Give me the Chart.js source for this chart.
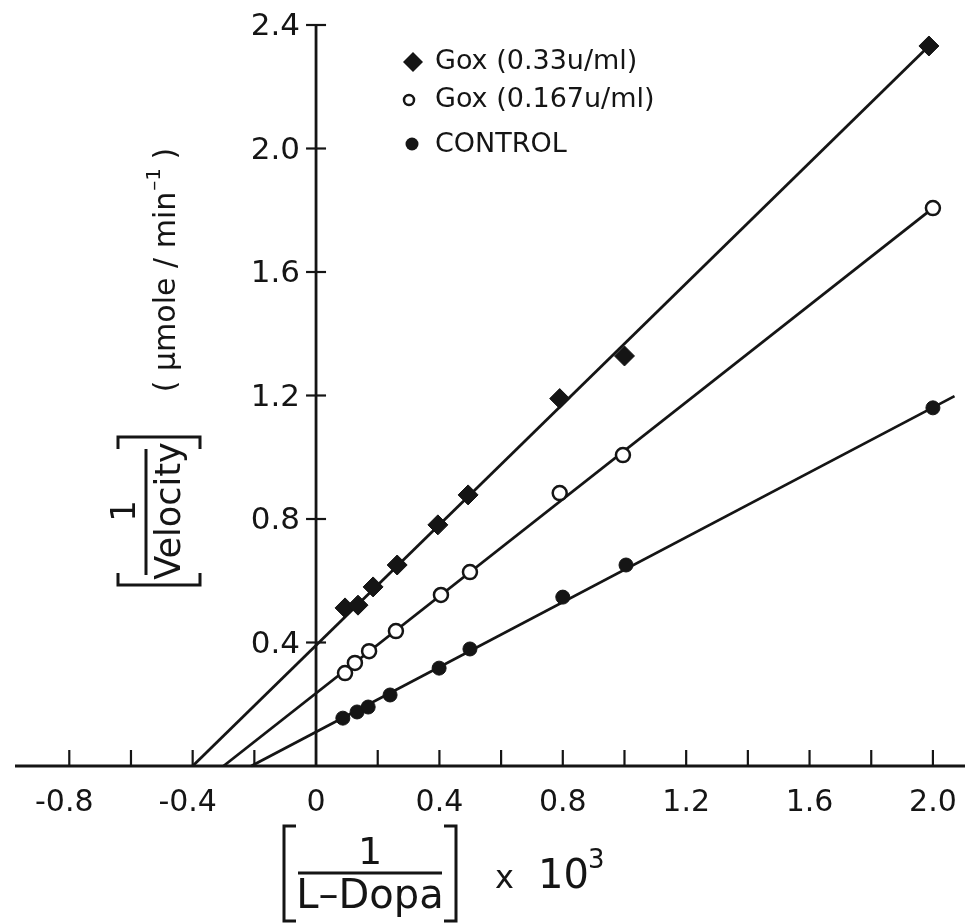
<!DOCTYPE html>
<html>
<head>
<meta charset="utf-8">
<script src="https://cdn.jsdelivr.net/npm/chart.js@4"></script>
<style>
  html, body { margin: 0; padding: 0; background: #fff; }
  #wrap { width: 965px; height: 924px; }
</style>
</head>
<body>
<div id="wrap"><canvas id="lbChart" width="965" height="924"></canvas></div>
<script>
// Valori (1/[L-Dopa] x 10^3 e 1/velocita)
const seriesNames = ['Gox (0.33u/ml)', 'Gox (0.167u/ml)', 'CONTROL'];

const xGox33 = [0.094, 0.136, 0.185, 0.263, 0.395, 0.493, 0.79, 1.0, 1.987];
const yGox33 = [0.512, 0.521, 0.58, 0.651, 0.781, 0.878, 1.19, 1.328, 2.332];

const xGox167 = [0.094, 0.126, 0.172, 0.259, 0.405, 0.499, 0.79, 0.995, 2.0];
const yGox167 = [0.301, 0.334, 0.372, 0.437, 0.554, 0.628, 0.884, 1.007, 1.807];

const xControl = [0.087, 0.133, 0.169, 0.24, 0.399, 0.499, 0.80, 1.005, 2.0];
const yControl = [0.155, 0.175, 0.191, 0.23, 0.317, 0.379, 0.547, 0.651, 1.16];

// Rette di regressione (estremi)
const fitGox33 = { x: [-0.40, 1.987], y: [0, 2.332] };
const fitGox167 = { x: [-0.30, 2.0], y: [0, 1.807] };
const fitControl = { x: [-0.21, 2.07], y: [0, 1.198] };

// Tacche e etichette degli assi
const xTickMarks = [-0.8, -0.6, -0.4, -0.2, 0.2, 0.4, 0.6, 0.8, 1.0, 1.2, 1.4, 1.6, 1.8, 2.0];
const xTickLabels = ['-0.8', '-0.4', '0', '0.4', '0.8', '1.2', '1.6', '2.0'];
const yTickValues = [0.4, 0.8, 1.2, 1.6, 2.0, 2.4];
const yTickLabels = ['0.4', '0.8', '1.2', '1.6', '2.0', '2.4'];

const FONT = "'DejaVu Sans', sans-serif";
const INK = '#151515';

function toPoints(xs, ys) {
    return xs.map((x, i) => ({ x: x, y: ys[i] }));
}

function fitDataset(fit) {
    return {
        type: 'line',
        data: toPoints(fit.x, fit.y),
        borderColor: INK,
        borderWidth: 2.8,
        pointRadius: 0,
        fill: false,
        order: 2
    };
}

// Sfondo bianco
const whiteBg = {
    id: 'whiteBg',
    beforeDraw(chart) {
        const ctx = chart.ctx;
        ctx.save();
        ctx.fillStyle = '#fff';
        ctx.fillRect(0, 0, chart.width, chart.height);
        ctx.restore();
    }
};

// Assi disegnati a mano attraverso le scale di Chart.js
const axesPlugin = {
    id: 'axesPlugin',
    beforeDatasetsDraw(chart) {
        const ctx = chart.ctx;
        const xs = chart.scales.x;
        const ys = chart.scales.y;
        const x0 = xs.getPixelForValue(0);
        const y0 = ys.getPixelForValue(0);
        ctx.save();
        ctx.strokeStyle = INK;
        ctx.lineWidth = 2.8;
        ctx.lineCap = 'butt';

        // asse x
        ctx.beginPath();
        ctx.moveTo(chart.chartArea.left, y0);
        ctx.lineTo(chart.chartArea.right, y0);
        ctx.stroke();
        // asse y
        ctx.beginPath();
        ctx.moveTo(x0, ys.getPixelForValue(2.4));
        ctx.lineTo(x0, y0);
        ctx.stroke();

        // tacche x (verso l'alto)
        ctx.lineWidth = 2.2;
        xTickMarks.forEach(v => {
            const px = xs.getPixelForValue(v);
            ctx.beginPath();
            ctx.moveTo(px, y0);
            ctx.lineTo(px, y0 - 16);
            ctx.stroke();
        });
        // tacche y (attraversano l'asse)
        yTickValues.forEach(v => {
            const py = ys.getPixelForValue(v);
            ctx.beginPath();
            ctx.moveTo(x0 - 10, py);
            ctx.lineTo(x0 + 10, py);
            ctx.stroke();
        });

        // etichette x
        ctx.fillStyle = INK;
        ctx.font = '30px ' + FONT;
        ctx.textAlign = 'center';
        ctx.textBaseline = 'alphabetic';
        xTickLabels.forEach(lab => {
            const v = parseFloat(lab);
            let px = xs.getPixelForValue(v);
            if (v < 0) px -= 5;
            ctx.fillText(lab, px, y0 + 45);
        });
        // etichette y
        ctx.textAlign = 'right';
        ctx.textBaseline = 'middle';
        ctx.font = '31px ' + FONT;
        yTickLabels.forEach((lab, i) => {
            const py = ys.getPixelForValue(yTickValues[i]);
            ctx.fillText(lab, x0 - 16, py + 2);
        });
        ctx.restore();
    }
};

function bracket(ctx, x, yTop, yBot, dir) {
    ctx.beginPath();
    ctx.moveTo(x + dir * 12, yTop);
    ctx.lineTo(x, yTop);
    ctx.lineTo(x, yBot);
    ctx.lineTo(x + dir * 12, yBot);
    ctx.stroke();
}

// Titoli degli assi e legenda
const labelsPlugin = {
    id: 'labelsPlugin',
    afterDraw(chart) {
        const ctx = chart.ctx;
        ctx.save();
        ctx.fillStyle = INK;
        ctx.strokeStyle = INK;
        ctx.lineWidth = 3;

        // titolo asse x: [1 / L-Dopa] x 10^3
        bracket(ctx, 284, 826, 921, 1);
        bracket(ctx, 456, 826, 921, -1);
        ctx.beginPath();
        ctx.moveTo(298, 873);
        ctx.lineTo(442, 873);
        ctx.stroke();
        ctx.textAlign = 'center';
        ctx.textBaseline = 'alphabetic';
        ctx.font = '38px ' + FONT;
        ctx.fillText('1', 370, 864);
        ctx.font = '40px ' + FONT;
        ctx.fillText('L\u2013Dopa', 370, 908);
        ctx.textAlign = 'left';
        ctx.font = '32px ' + FONT;
        ctx.fillText('x', 495, 888);
        ctx.font = '40px ' + FONT;
        ctx.fillText('10', 538, 888);
        ctx.font = '26px ' + FONT;
        ctx.fillText('3', 588, 868);

        // titolo asse y (ruotato)
        ctx.save();
        ctx.translate(159, 511);
        ctx.rotate(-Math.PI / 2);
        bracket(ctx, -74, -41, 41, 1);
        bracket(ctx, 74, -41, 41, -1);
        ctx.beginPath();
        ctx.moveTo(-64, -13);
        ctx.lineTo(62, -13);
        ctx.stroke();
        ctx.textAlign = 'center';
        ctx.textBaseline = 'alphabetic';
        ctx.font = '34px ' + FONT;
        ctx.fillText('1', 0, -24);
        ctx.font = '35px ' + FONT;
        ctx.fillText('Velocity', 0, 21);
        ctx.restore();

        ctx.save();
        ctx.translate(165, 270);
        ctx.rotate(-Math.PI / 2);
        ctx.textBaseline = 'middle';
        ctx.textAlign = 'left';
        ctx.font = '30px ' + FONT;
        const main = '( \u00b5mole / min';
        const sup = '\u20131';
        const close = ' )';
        const wMain = ctx.measureText(main).width;
        const wClose = ctx.measureText(close).width;
        ctx.font = '20px ' + FONT;
        const wSup = ctx.measureText(sup).width;
        const total = wMain + wSup + wClose;
        let sx = -total / 2;
        ctx.font = '30px ' + FONT;
        ctx.fillText(main, sx, 2);
        sx += wMain;
        ctx.font = '20px ' + FONT;
        ctx.fillText(sup, sx + 1, -10);
        sx += wSup;
        ctx.font = '30px ' + FONT;
        ctx.fillText(close, sx, 2);
        ctx.restore();

        // legenda
        ctx.textAlign = 'left';
        ctx.textBaseline = 'middle';
        ctx.font = '27px ' + FONT;
        // rombo pieno
        ctx.beginPath();
        ctx.moveTo(413 - 10, 62);
        ctx.lineTo(413, 52);
        ctx.lineTo(413 + 10, 62);
        ctx.lineTo(413, 72);
        ctx.closePath();
        ctx.fill();
        ctx.fillText(seriesNames[0], 435, 62);
        // cerchio vuoto
        ctx.lineWidth = 2.5;
        ctx.beginPath();
        ctx.arc(409, 100, 5, 0, Math.PI * 2);
        ctx.stroke();
        ctx.fillText(seriesNames[1], 435, 100);
        // cerchio pieno
        ctx.beginPath();
        ctx.arc(412, 144, 6.5, 0, Math.PI * 2);
        ctx.fill();
        ctx.fillText(seriesNames[2], 435, 145);
        ctx.restore();
    }
};

const ctxLB = document.getElementById('lbChart').getContext('2d');

const lbChart = new Chart(ctxLB, {
    type: 'scatter',
    data: {
        datasets: [
            {
                label: seriesNames[0],
                data: toPoints(xGox33, yGox33),
                pointStyle: 'rectRot',
                pointRadius: 10,
                backgroundColor: INK,
                borderColor: INK,
                borderWidth: 1,
                order: 0
            },
            {
                label: seriesNames[1],
                data: toPoints(xGox167, yGox167),
                pointStyle: 'circle',
                pointRadius: 7,
                backgroundColor: '#fff',
                borderColor: INK,
                borderWidth: 2.5,
                order: 0
            },
            {
                label: seriesNames[2],
                data: toPoints(xControl, yControl),
                pointStyle: 'circle',
                pointRadius: 7,
                backgroundColor: INK,
                borderColor: INK,
                borderWidth: 1,
                order: 0
            },
            fitDataset(fitGox33),
            fitDataset(fitGox167),
            fitDataset(fitControl)
        ]
    },
    options: {
        responsive: false,
        animation: false,
        clip: false,
        layout: { autoPadding: false, padding: { left: 15, right: 0, top: 25, bottom: 158 } },
        plugins: {
            legend: { display: false },
            tooltip: { enabled: false }
        },
        scales: {
            x: { type: 'linear', min: -0.976, max: 2.104, display: false },
            y: { type: 'linear', min: 0, max: 2.4, display: false }
        }
    },
    plugins: [whiteBg, axesPlugin, labelsPlugin]
});
</script>
</body>
</html>
